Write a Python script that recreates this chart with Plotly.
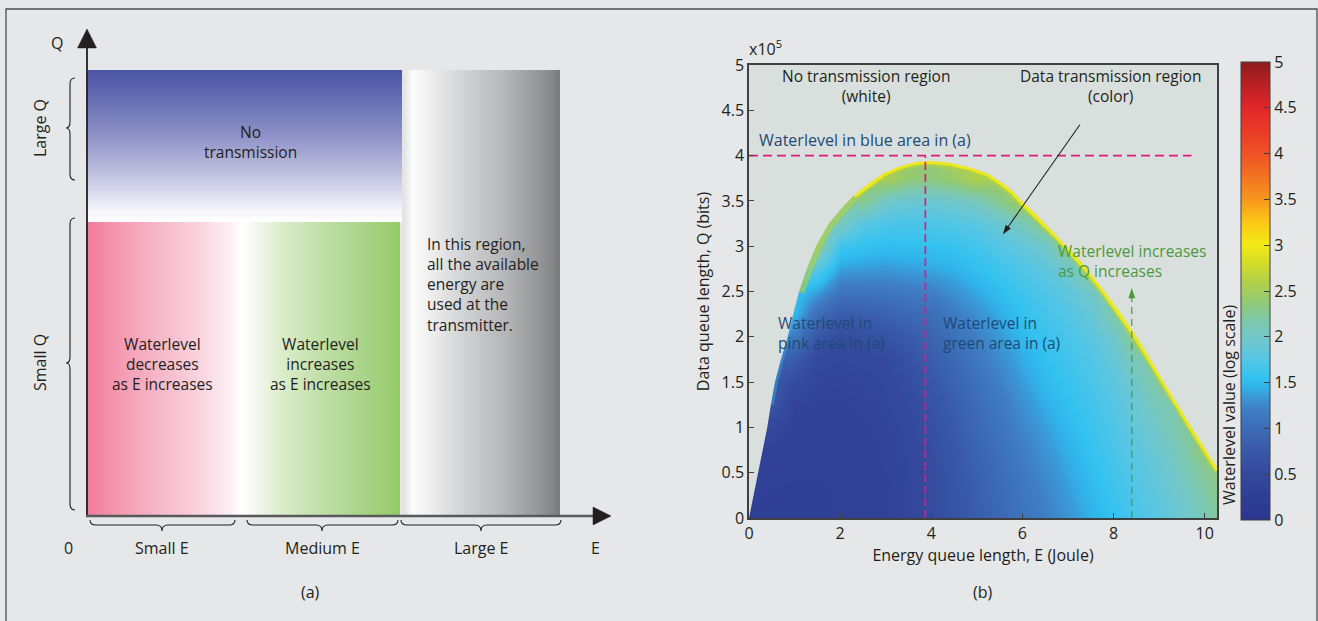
import plotly.graph_objects as go

W, H = 1318, 621
FONT = "Open Sans"
INK = "#231f20"
AXIS = "#404041"
PAPER = "#e6e7e8"
PLOT_BG = "#d9dfdc"
NAVY_TXT = "#1d4a78"
GREEN_TXT = "#4a9a3f"
MAGENTA = "#e01b7c"

# ---------------- panel (b): waterlevel map ----------------
E_GRID = [0.0, 0.5, 1.0, 1.5, 2.0, 2.5, 3.0, 3.5, 4.0, 4.5, 5.0,
          5.5, 6.0, 6.5, 7.0, 7.5, 8.0, 8.5, 9.0, 9.5, 10.0, 10.5]
Q_GRID = [0, 25000, 50000, 75000, 100000, 125000, 150000, 175000, 200000,
          225000, 250000, 275000, 300000, 325000, 350000, 375000, 400000]

# waterlevel (log scale) per energy column, listed from Q = 0 upward
WL_E00 = [0.28]
WL_E05 = [0.28, 0.28, 0.30, 0.34, 0.45, 0.70]
WL_E10 = [0.28, 0.28, 0.29, 0.31, 0.34, 0.38, 0.55, 0.80, 1.15, 1.50]
WL_E15 = [0.28, 0.28, 0.29, 0.30, 0.32, 0.35, 0.40, 0.50, 0.72, 1.02, 1.40, 1.75, 2.30]
WL_E20 = [0.29, 0.29, 0.30, 0.31, 0.33, 0.35, 0.39, 0.45, 0.55, 0.80, 1.10, 1.38, 1.62, 2.10]
WL_E25 = [0.31, 0.31, 0.32, 0.33, 0.35, 0.37, 0.41, 0.47, 0.60, 0.82, 1.10, 1.35, 1.56, 1.78, 2.30]
WL_E30 = [0.35, 0.35, 0.36, 0.37, 0.39, 0.42, 0.46, 0.52, 0.66, 0.88, 1.12, 1.34, 1.52, 1.70, 2.00, 2.55]
WL_E35 = [0.42, 0.42, 0.43, 0.45, 0.48, 0.52, 0.57, 0.65, 0.78, 0.95, 1.17, 1.37, 1.53, 1.68, 1.92, 2.40]
WL_E40 = [0.54, 0.55, 0.56, 0.58, 0.62, 0.67, 0.73, 0.81, 0.90, 1.02, 1.20, 1.40, 1.55, 1.70, 1.92, 2.35]
WL_E45 = [0.68, 0.69, 0.71, 0.74, 0.78, 0.83, 0.89, 0.96, 1.05, 1.17, 1.31, 1.45, 1.58, 1.74, 1.98, 2.45]
WL_E50 = [0.82, 0.84, 0.87, 0.90, 0.95, 1.00, 1.06, 1.13, 1.21, 1.30, 1.42, 1.53, 1.64, 1.80, 2.08, 2.60]
WL_E55 = [0.95, 0.98, 1.01, 1.05, 1.10, 1.15, 1.21, 1.28, 1.35, 1.43, 1.52, 1.62, 1.75, 1.92, 2.30]
WL_E60 = [1.08, 1.11, 1.15, 1.19, 1.24, 1.30, 1.36, 1.42, 1.48, 1.55, 1.62, 1.72, 1.85, 2.10, 2.50]
WL_E65 = [1.20, 1.23, 1.27, 1.32, 1.37, 1.43, 1.49, 1.54, 1.59, 1.65, 1.72, 1.82, 1.98, 2.35]
WL_E70 = [1.32, 1.36, 1.40, 1.44, 1.49, 1.54, 1.58, 1.63, 1.68, 1.74, 1.83, 1.97, 2.35]
WL_E75 = [1.44, 1.48, 1.52, 1.56, 1.60, 1.64, 1.68, 1.73, 1.79, 1.88, 2.02, 2.35]
WL_E80 = [1.56, 1.60, 1.64, 1.68, 1.72, 1.76, 1.81, 1.88, 1.98, 2.18]
WL_E85 = [1.68, 1.72, 1.76, 1.80, 1.86, 1.92, 2.00, 2.12, 2.40]
WL_E90 = [1.80, 1.84, 1.89, 1.95, 2.02, 2.11, 2.25]
WL_E95 = [1.95, 2.00, 2.06, 2.13, 2.22]
WL_E100 = [2.12, 2.18, 2.26, 2.40]
WL_E105 = [2.30, 2.40]
WL_COLUMNS = [WL_E00, WL_E05, WL_E10, WL_E15, WL_E20, WL_E25, WL_E30, WL_E35,
              WL_E40, WL_E45, WL_E50, WL_E55, WL_E60, WL_E65, WL_E70, WL_E75,
              WL_E80, WL_E85, WL_E90, WL_E95, WL_E100, WL_E105]

# edge of the data transmission region
BOUND_E = [0.00, 0.10, 0.20, 0.30, 0.40, 0.48, 0.57, 0.70, 0.85, 0.97, 1.10, 1.27,
           1.47, 1.75, 2.05, 2.30, 2.60, 2.97, 3.30, 3.65, 4.00, 4.40, 4.85, 5.25,
           5.55, 5.80, 6.00, 6.30, 6.60, 6.90, 7.20, 7.50, 7.80, 8.10, 8.44, 8.80,
           9.10, 9.40, 9.70, 10.00, 10.30]
BOUND_Q = [0, 25000, 50000, 75000, 100000, 125000, 150000, 175000, 200000, 225000,
           250000, 275000, 300000, 325000, 343000, 356000, 368000, 381000, 388000,
           393000, 394000, 392000, 387000, 380000, 370000, 360000, 349000, 335000,
           319000, 304000, 288000, 270000, 250000, 230000, 205000, 176000, 150000,
           125000, 101000, 77000, 53000]
RIM_CYAN = (5, 12)     # index span of the light-blue edge
RIM_GREEN = (10, 41)   # index span of the yellow-green edge
RIM_YELLOW = (15, 41)  # index span of the bright yellow edge

E_TICKS = [0, 2, 4, 6, 8, 10]
Q_TICKS = [0, 50000, 100000, 150000, 200000, 250000, 300000, 350000, 400000, 450000, 500000]
Q_TICK_TEXT = ["0", "0.5", "1", "1.5", "2", "2.5", "3", "3.5", "4", "4.5", "5"]
CB_TICKS = [0, 0.5, 1, 1.5, 2, 2.5, 3, 3.5, 4, 4.5, 5]
CB_TICK_TEXT = ["0", "0.5", "1", "1.5", "2", "2.5", "3", "3.5", "4", "4.5", "5"]

E_MAX = 10.27
Q_MAX = 500000
BLUE_LEVEL_Q = 400000
BLUE_LEVEL_E_END = 9.71
SPLIT_E = 3.87
GREEN_ARROW_E = 8.40
GREEN_ARROW_TOP = 254000
BLACK_ARROW_TAIL = (7.26, 434000)
BLACK_ARROW_TIP = (5.57, 313000)

JET = [[0.00, "#2c3590"], [0.06, "#2f4096"], [0.10, "#34499c"], [0.15, "#3858a8"],
       [0.19, "#3c68b3"], [0.24, "#3f7ec4"], [0.27, "#3a9ad8"], [0.29, "#30b4ea"],
       [0.31, "#33c2f0"], [0.35, "#55c6e5"], [0.39, "#6ec7cf"], [0.43, "#7cc8b0"],
       [0.47, "#8ec87c"], [0.52, "#b2d048"], [0.56, "#d2dc2a"], [0.60, "#f3ea14"],
       [0.65, "#fcc816"], [0.70, "#f7961d"], [0.80, "#ef5124"], [0.90, "#e2262a"],
       [1.00, "#8e1b1e"]]

z = [[(col[i] if i < len(col) else None) for col in WL_COLUMNS] for i in range(len(Q_GRID))]

fig = go.Figure()

fig.add_trace(go.Heatmap(
    x=E_GRID, y=Q_GRID, z=z, zmin=0, zmax=5, colorscale=JET, zsmooth="best",
    connectgaps=True, hoverinfo="skip", xaxis="x", yaxis="y",
    colorbar=dict(x=1241 / W, xanchor="left", xpad=0, y=1 - 520 / H, yanchor="bottom",
                  ypad=0, len=458, lenmode="pixels", thickness=29, thicknessmode="pixels",
                  outlinecolor=AXIS, outlinewidth=1, tickvals=CB_TICKS, ticktext=CB_TICK_TEXT,
                  ticks="inside", ticklen=6, tickcolor=AXIS,
                  tickfont=dict(family=FONT, size=16, color=INK))))


def rim(span, color, width):
    a, b = span
    return go.Scatter(x=BOUND_E[a:b], y=BOUND_Q[a:b], mode="lines",
                      line=dict(color=color, width=width),
                      hoverinfo="skip", showlegend=False)


fig.add_trace(rim(RIM_CYAN, "rgba(60,175,232,0.40)", 6))
fig.add_trace(rim(RIM_GREEN, "rgba(180,210,62,0.60)", 11))
fig.add_trace(rim(RIM_YELLOW, "rgba(239,233,26,0.95)", 6))

# no-transmission region (outside the boundary)
fig.add_trace(go.Scatter(
    x=BOUND_E + [E_MAX + 1, E_MAX + 1, -1, -1],
    y=BOUND_Q + [BOUND_Q[-1], Q_MAX * 1.2, Q_MAX * 1.2, 0],
    mode="lines", fill="toself", fillcolor=PLOT_BG, line=dict(width=0, color=PLOT_BG),
    hoverinfo="skip", showlegend=False))

# dashed guides
fig.add_trace(go.Scatter(x=[0, BLUE_LEVEL_E_END], y=[BLUE_LEVEL_Q, BLUE_LEVEL_Q], mode="lines",
                         line=dict(color=MAGENTA, width=1.7, dash="9px,5px"),
                         hoverinfo="skip", showlegend=False))
fig.add_trace(go.Scatter(x=[SPLIT_E, SPLIT_E], y=[0, BLUE_LEVEL_Q], mode="lines",
                         line=dict(color=MAGENTA, width=1.7, dash="8px,4px"),
                         hoverinfo="skip", showlegend=False))
fig.add_trace(go.Scatter(x=[GREEN_ARROW_E, GREEN_ARROW_E], y=[0, GREEN_ARROW_TOP],
                         mode="lines+markers", line=dict(color=GREEN_TXT, width=1.2, dash="7px,5px"),
                         marker=dict(symbol="arrow", size=11, angleref="previous",
                                     color=GREEN_TXT, line=dict(width=0)),
                         hoverinfo="skip", showlegend=False))
fig.add_trace(go.Scatter(x=[BLACK_ARROW_TAIL[0], BLACK_ARROW_TIP[0]],
                         y=[BLACK_ARROW_TAIL[1], BLACK_ARROW_TIP[1]],
                         mode="lines+markers", line=dict(color=INK, width=1.1),
                         marker=dict(symbol="arrow", size=10, angleref="previous",
                                     color=INK, line=dict(width=0)),
                         hoverinfo="skip", showlegend=False))

# ---------------- panel (a): schematic gradients (pixel overlay axes) ----------------
def ramp_v(x0, x1, y0, y1, k, scale):
    ys = [y0 + (y1 - y0) * i / k for i in range(k + 1)]
    return go.Heatmap(x=[x0, x1], y=ys, z=[[i] for i in range(k)], colorscale=scale,
                      zsmooth="best", showscale=False, hoverinfo="skip", xaxis="x2", yaxis="y2")


def ramp_h(x0, x1, y0, y1, k, scale):
    xs = [x0 + (x1 - x0) * i / k for i in range(k + 1)]
    return go.Heatmap(x=xs, y=[y0, y1], z=[list(range(k))], colorscale=scale,
                      zsmooth="best", showscale=False, hoverinfo="skip", xaxis="x2", yaxis="y2")


BLUE_SCALE = [[0, "#4d57a5"], [0.2, "#6870b5"], [0.45, "#9396c9"], [0.7, "#c3c4e2"],
              [0.9, "#eeeef7"], [1, "#ffffff"]]
PINK_GREEN_SCALE = [[0, "#f27c9c"], [0.105, "#f49cb3"], [0.233, "#f6b9cb"], [0.36, "#f9d4df"],
                    [0.457, "#fdf0f4"], [0.495, "#ffffff"], [0.54, "#f3f8ee"], [0.617, "#dcedcc"],
                    [0.744, "#c2e0aa"], [0.872, "#acd58c"], [1, "#95ca68"]]
GRAY_SCALE = [[0, "#e4e4e4"], [0.05, "#fbfbfb"], [0.12, "#f4f4f4"], [0.38, "#d2d3d4"],
              [0.65, "#b5b6b8"], [0.92, "#8d8f91"], [1, "#7b7d7f"]]

fig.add_trace(ramp_v(87, 402, 70, 222, 38, BLUE_SCALE))
fig.add_trace(ramp_h(87, 400, 222, 516, 78, PINK_GREEN_SCALE))
fig.add_trace(ramp_h(402, 560, 70, 516, 40, GRAY_SCALE))

# ---------------- shapes ----------------
shapes = []
shapes.append(dict(type="rect", xref="x domain", yref="y domain", x0=0, x1=1, y0=0, y1=1,
                   fillcolor=PLOT_BG, line=dict(width=0), layer="below"))
shapes.append(dict(type="rect", xref="x2", yref="y2", x0=6, x1=1317, y0=9, y1=640,
                   line=dict(color="#4d4d4f", width=1.3), layer="above"))
shapes.append(dict(type="line", xref="x2", yref="y2", x0=87, x1=87, y0=517, y1=44,
                   line=dict(color=INK, width=1.8), layer="above"))
shapes.append(dict(type="path", xref="x2", yref="y2", path="M 87,29 L 96.5,48 L 77.5,48 Z",
                   fillcolor=INK, line=dict(color=INK, width=0.5), layer="above"))
shapes.append(dict(type="line", xref="x2", yref="y2", x0=86, x1=596, y0=516, y1=516,
                   line=dict(color="#58595b", width=2.5), layer="above"))
shapes.append(dict(type="path", xref="x2", yref="y2", path="M 611,516 L 593,507 L 593,525 Z",
                   fillcolor=INK, line=dict(color=INK, width=0.5), layer="above"))


def brace_v(x_end, x_main, x_cusp, y0, y1, yc, r=6):
    return (f"M {x_end},{y0} Q {x_main},{y0} {x_main},{y0 + r} L {x_main},{yc - r} "
            f"Q {x_main},{yc} {x_cusp},{yc} Q {x_main},{yc} {x_main},{yc + r} "
            f"L {x_main},{y1 - r} Q {x_main},{y1} {x_end},{y1}")


def brace_h(x0, x1, xc, y_end, y_main, y_cusp, r=6):
    return (f"M {x0},{y_end} Q {x0},{y_main} {x0 + r},{y_main} L {xc - r},{y_main} "
            f"Q {xc},{y_main} {xc},{y_cusp} Q {xc},{y_main} {xc + r},{y_main} "
            f"L {x1 - r},{y_main} Q {x1},{y_main} {x1},{y_end}")


for p in [brace_v(75, 70, 66, 78, 180, 128), brace_v(75, 70, 66, 218, 510, 363),
          brace_h(90, 235, 162, 520, 525, 531), brace_h(247, 398, 322, 520, 525, 531),
          brace_h(401, 561, 481, 520, 525, 531)]:
    shapes.append(dict(type="path", xref="x2", yref="y2", path=p,
                       line=dict(color=INK, width=1.1), layer="above"))

for v in CB_TICKS[1:-1]:
    yy = 520 - v / 5 * 458
    shapes.append(dict(type="line", xref="x2", yref="y2", x0=1241, x1=1247, y0=yy, y1=yy,
                       line=dict(color=AXIS, width=1), layer="above"))

# ---------------- annotations ----------------
ann = []


def txt(x, y, s, size=16, color=INK, xanchor="center", angle=0, yanchor="middle", align="center"):
    return dict(x=x, y=y, xref="x2", yref="y2", text=s, showarrow=False, textangle=angle,
                font=dict(family=FONT, size=size, color=color), xanchor=xanchor,
                yanchor=yanchor, align=align)


# panel (a)
ann.append(txt(57, 43, "Q"))
ann.append(txt(40, 128, "Large Q", angle=-90))
ann.append(txt(40, 363, "Small Q", angle=-90))
ann.append(txt(250, 142, "No<br>transmission", size=15.5))
ann.append(txt(162, 364, "Waterlevel<br>decreases<br>as E increases", size=15.5))
ann.append(txt(320, 364, "Waterlevel<br>increases<br>as E increases", size=15.5))
ann.append(txt(425, 284.5, "In this region,<br>all the available<br>energy are<br>used at the<br>transmitter.",
               size=15.5, xanchor="left", align="left"))
for x, s in [(68, "0"), (162, "Small E"), (322, "Medium E"), (481, "Large E"), (595, "E")]:
    ann.append(txt(x, 548, s))
ann.append(txt(310, 592, "(a)"))

# panel (b)
ann.append(txt(747, 62, "x10<sup>5</sup>", xanchor="left", yanchor="bottom"))
ann.append(txt(866, 86, "No transmission region<br>(white)", size=15.5))
ann.append(txt(1110, 86, "Data transmission region<br>(color)", size=15.5))
ann.append(txt(757, 140, "Waterlevel in blue area in (a)", color=NAVY_TXT, xanchor="left"))
ann.append(txt(776, 332.5, "Waterlevel in<br>pink area in (a)", size=15.5, color=NAVY_TXT,
               xanchor="left", align="left"))
ann.append(txt(941, 332.5, "Waterlevel in<br>green area in (a)", size=15.5, color=NAVY_TXT,
               xanchor="left", align="left"))
ann.append(txt(1056, 260.5, "Waterlevel increases<br>as Q increases", size=15.5, color=GREEN_TXT,
               xanchor="left", align="left"))
ann.append(txt(1229, 405, "Waterlevel value (log scale)", angle=-90))
ann.append(txt(983, 592, "(b)"))

tickfont = dict(family=FONT, size=16, color=INK)
fig.update_layout(
    width=W, height=H, margin=dict(l=0, r=0, t=0, b=0, autoexpand=False),
    paper_bgcolor=PAPER, plot_bgcolor="rgba(0,0,0,0)", showlegend=False, hovermode=False,
    font=dict(family=FONT, color=INK),
    xaxis=dict(domain=[749 / W, 1217 / W], range=[0, E_MAX], tickvals=E_TICKS,
               ticks="inside", ticklen=5, tickwidth=1.2, tickcolor=AXIS, showline=True,
               linecolor=AXIS, linewidth=1.5, mirror=True, showgrid=False, zeroline=False,
               tickfont=tickfont, anchor="y", fixedrange=True, automargin=False,
               title=dict(text="Energy queue length, E (Joule)", standoff=4,
                          font=dict(family=FONT, size=16, color=INK))),
    yaxis=dict(domain=[1 - 518 / H, 1 - 65 / H], range=[0, Q_MAX], tickvals=Q_TICKS,
               ticktext=Q_TICK_TEXT, ticks="inside", ticklen=5, tickwidth=1.2, tickcolor=AXIS,
               showline=True, linecolor=AXIS, linewidth=1.5, mirror=True, showgrid=False,
               zeroline=False, tickfont=tickfont, anchor="x", fixedrange=True, automargin=False,
               title=dict(text="Data queue length, Q (bits)", standoff=8,
                          font=dict(family=FONT, size=16, color=INK))),
    xaxis2=dict(domain=[0, 1], range=[0, W], visible=False, anchor="y2", fixedrange=True),
    yaxis2=dict(domain=[0, 1], range=[H, 0], visible=False, anchor="x2", fixedrange=True),
    shapes=shapes, annotations=ann,
)

fig.write_html("out.html")
